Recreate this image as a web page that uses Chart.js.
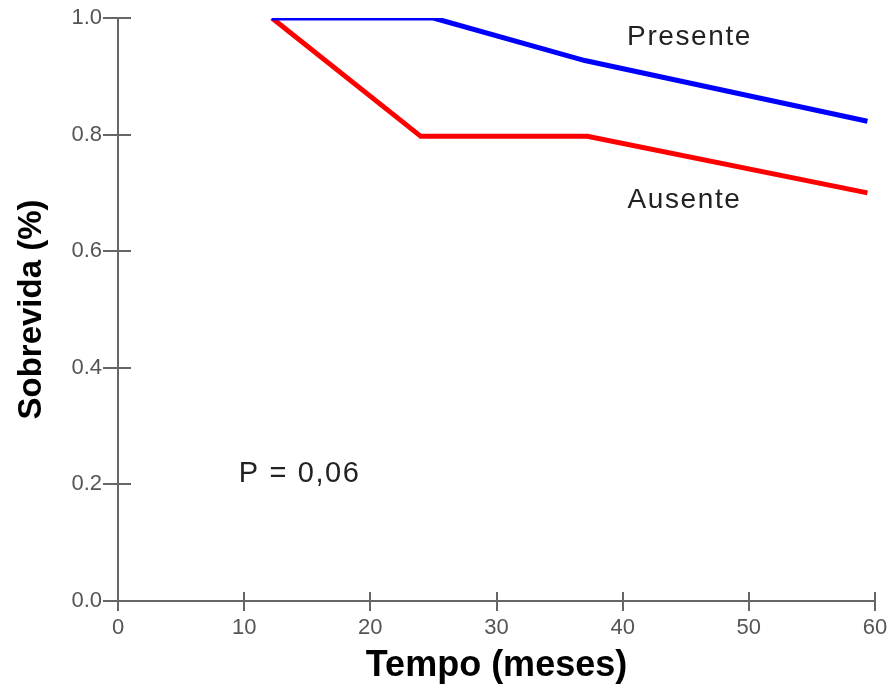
<!DOCTYPE html>
<html>
<head>
<meta charset="utf-8">
<script src="https://cdn.jsdelivr.net/npm/chart.js@4/dist/chart.umd.min.js"></script>
<style>
  html, body { margin: 0; padding: 0; background: #fff; }
  #wrap { width: 890px; height: 693px; }
</style>
</head>
<body>
<div id="wrap"><canvas id="myChart"></canvas></div>
<script>
// tempo (meses) / sobrevida
let presenteX = [12.2, 25, 37, 59.4];
let presenteY = [1.0, 1.0, 0.927, 0.823];
let ausenteX = [12.2, 24, 37.2, 59.4];
let ausenteY = [1.0, 0.797, 0.797, 0.70];
let xTicks = [0, 10, 20, 30, 40, 50, 60];
let yTicks = [0.0, 0.2, 0.4, 0.6, 0.8, 1.0];

function pts(xs, ys) {
    return xs.map((x, i) => ({ x: x, y: ys[i] }));
}

let axisColor = '#666';
let fam = '"Liberation Sans", Arial, sans-serif';

// ticks cross the axis line, so draw the inner half too + the text labels
let extras = {
    id: 'extras',
    afterDraw(chart) {
        let c = chart.ctx;
        let xs = chart.scales.x, ys = chart.scales.y;
        let a = chart.chartArea;
        c.save();
        c.strokeStyle = axisColor;
        c.lineWidth = 2;
        c.beginPath();
        yTicks.forEach(v => {
            let py = Math.round(ys.getPixelForValue(v));
            c.moveTo(a.left, py);
            c.lineTo(a.left + 13, py);
        });
        xTicks.forEach(v => {
            let px = Math.round(xs.getPixelForValue(v));
            c.moveTo(px, a.bottom);
            c.lineTo(px, a.bottom - 9);
        });
        c.stroke();

        c.fillStyle = '#222';
        c.textAlign = 'center';
        c.textBaseline = 'alphabetic';
        c.letterSpacing = '1.6px';
        c.font = '28px ' + fam;
        c.fillText('Presente', xs.getPixelForValue(45.3), ys.getPixelForValue(0.954));
        c.fillText('Ausente', xs.getPixelForValue(44.9), ys.getPixelForValue(0.674));
        c.font = '29px ' + fam;
        c.fillText('P = 0,06', xs.getPixelForValue(14.4), ys.getPixelForValue(0.204));
        c.restore();
    }
};

let ctx = document.getElementById('myChart').getContext('2d');
let myChart = new Chart(ctx, {
    type: 'scatter',
    data: {
        datasets: [{
            label: 'Presente',
            data: pts(presenteX, presenteY),
            showLine: true,
            borderColor: 'rgb(0, 0, 255)',
            borderWidth: 5,
            pointRadius: 0,
            fill: false
        }, {
            label: 'Ausente',
            data: pts(ausenteX, ausenteY),
            showLine: true,
            borderColor: 'rgb(255, 0, 0)',
            borderWidth: 5,
            pointRadius: 0,
            fill: false
        }]
    },
    options: {
        responsive: true,
        maintainAspectRatio: false,
        animation: false,
        layout: { padding: { top: 18, right: 15, left: 0, bottom: 0 } },
        plugins: {
            legend: { display: false },
            tooltip: { enabled: false }
        },
        scales: {
            x: {
                type: 'linear',
                min: 0,
                max: 60,
                afterBuildTicks: s => { s.ticks = xTicks.map(v => ({ value: v })); },
                afterFit: s => {
                    s.height = 92;
                    s.paddingLeft = 0;
                    s.paddingRight = 0;
                },
                border: { color: axisColor, width: 2 },
                grid: { drawOnChartArea: false, drawTicks: true, tickLength: 10, tickColor: axisColor, lineWidth: 2 },
                ticks: {
                    color: '#555',
                    font: { family: fam, size: 22 },
                    padding: 4,
                    maxRotation: 0
                },
                title: {
                    display: true,
                    text: 'Tempo (meses)',
                    color: '#000',
                    font: { family: fam, size: 36, weight: 'bold' },
                    padding: { top: 0, bottom: 5 }
                }
            },
            y: {
                min: 0,
                max: 1,
                afterBuildTicks: s => { s.ticks = yTicks.map(v => ({ value: v })); },
                afterFit: s => { s.width = 118; },
                border: { color: axisColor, width: 2 },
                grid: { drawOnChartArea: false, drawTicks: true, tickLength: 15, tickColor: axisColor, lineWidth: 2 },
                ticks: {
                    color: '#555',
                    font: { family: fam, size: 22 },
                    padding: 1,
                    callback: v => v.toFixed(1)
                },
                title: {
                    display: true,
                    text: 'Sobrevida (%)',
                    color: '#000',
                    font: { family: fam, size: 33, weight: 'bold' },
                    padding: { top: 12, bottom: 0 }
                }
            }
        }
    },
    plugins: [extras]
});
</script>
</body>
</html>
